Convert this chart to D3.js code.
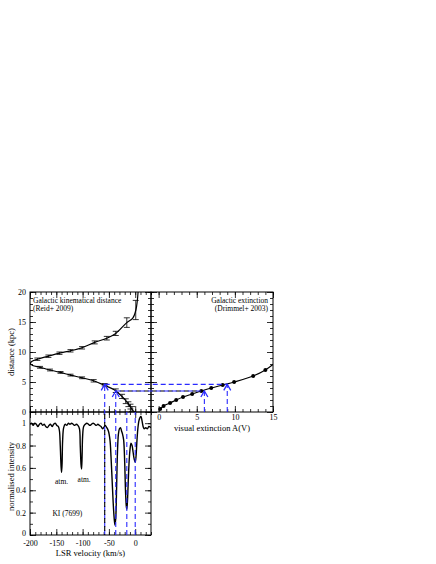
<!DOCTYPE html>
<html>
<head>
<meta charset="utf-8">
<script src="https://cdn.jsdelivr.net/npm/d3@7"></script>
<style>
  body { margin: 0; background: #fff; }
  svg text { font-family: "Liberation Serif", "DejaVu Serif", serif; fill: #000; }
</style>
</head>
<body>
<svg id="chart" width="436" height="564"></svg>
<script>
// Kinematic distance curve (LSR velocity in km/s, distance in kpc)
const kinCurveV = [5.5, 1.3, -5, -16, -37, -54, -77, -101, -123, -144, -165, -186, -196, -199.5, -195, -181, -162, -142.5, -123, -101, -79, -59.5, -40, -27.5, -18, -11.5, -6, -2];
const kinCurveD = [20.05, 17.0, 15.6, 14.9, 13.1, 12.3, 11.6, 10.7, 10.2, 9.8, 9.3, 8.8, 8.45, 8.1, 7.75, 7.45, 7.0, 6.6, 6.15, 5.7, 5.2, 4.5, 3.7, 2.8, 1.9, 1.2, 0.45, 0];

// Points with error bars on the kinematic curve
const kinPtV = [-186, -165, -144, -123, -101, -77, -54, -37, -16, 1, -181, -162, -142, -123, -101, -79, -58, -37, -25, -18, -13, -9, -6];
const kinPtD = [8.8, 9.3, 9.8, 10.2, 10.7, 11.6, 12.3, 13.1, 14.9, 17.0, 7.45, 7.0, 6.6, 6.15, 5.7, 5.2, 4.55, 3.55, 2.6, 1.8, 1.3, 0.9, 0.5];
const kinPtErr = [0.2, 0.2, 0.2, 0.2, 0.2, 0.25, 0.3, 0.35, 0.8, 1.6, 0.15, 0.15, 0.15, 0.15, 0.15, 0.2, 0.2, 0.3, 0.35, 0.4, 0.4, 0.4, 0.4];

// Galactic extinction (A(V) in mag, distance in kpc)
const extA = [0.2, 0.65, 1.5, 2.3, 3.2, 4.4, 5.6, 6.9, 8.4, 9.9, 12.4, 14.0];
const extD = [0.5, 1.0, 1.5, 2.0, 2.5, 3.0, 3.5, 4.0, 4.5, 5.0, 6.0, 7.0];
const extLineA = [0.2, 0.65, 1.5, 2.3, 3.2, 4.4, 5.6, 6.9, 8.4, 9.9, 12.4, 14.0, 15.2];
const extLineD = [0.5, 1.0, 1.5, 2.0, 2.5, 3.0, 3.5, 4.0, 4.5, 5.0, 6.0, 7.0, 8.1];

// KI (7699) spectrum
const specV = [-200, -197, -194, -191, -188, -185, -182, -179, -176, -173, -170, -167, -164, -161, -158, -155, -152, -149, -146, -144, -142.5, -141, -140, -139, -138, -136, -133, -130, -127, -124, -121, -118, -115, -112, -109, -106, -104.5, -103, -102, -101, -100, -98, -95, -92, -89, -86, -83, -80, -77, -74, -71, -68, -65, -62, -60, -57, -54, -51, -48, -46, -44, -42, -40, -38.5, -37, -35.5, -34, -32, -30, -28, -26, -24, -22, -20, -18.5, -17, -16, -15, -13.5, -12, -10, -8, -6, -4, -2, 0, 1.5, 3, 5, 7, 9, 11, 13, 15, 17, 20, 23, 26, 30];
const specI = [0.99, 1.0, 0.98, 1.0, 0.99, 0.97, 0.99, 1.0, 0.98, 0.99, 0.97, 0.96, 0.98, 0.99, 0.97, 0.99, 1.0, 0.98, 0.97, 0.93, 0.8, 0.62, 0.56, 0.64, 0.84, 0.96, 0.99, 0.98, 1.0, 0.99, 1.0, 0.99, 0.98, 0.99, 0.98, 0.95, 0.8, 0.63, 0.59, 0.7, 0.88, 0.97, 0.99, 1.0, 0.99, 0.98, 0.99, 1.0, 0.99, 0.98, 0.99, 0.98, 0.97, 0.95, 0.96, 0.98, 0.96, 0.93, 0.85, 0.7, 0.5, 0.3, 0.15, 0.09, 0.15, 0.4, 0.7, 0.9, 0.95, 0.96, 0.93, 0.9, 0.85, 0.65, 0.4, 0.26, 0.23, 0.28, 0.45, 0.62, 0.76, 0.82, 0.8, 0.74, 0.68, 0.65, 0.7, 0.82, 0.95, 1.02, 1.05, 1.06, 1.02, 0.97, 0.95, 0.96, 0.95, 0.97, 0.96];

// Absorption components and the distances / extinctions they map to
const compVel = [-58, -37, -16, 0];
const compDist = [4.6, 3.5];
const compAv = [9, 6];

// Tick values
const velMajor = [-200, -150, -100, -50, 0];
const velMinor = d3.range(-200, 31, 10);
const distMajor = [0, 5, 10, 15, 20];
const distMinor = d3.range(0, 21, 1);
const intMajor = [0, 0.2, 0.4, 0.6, 0.8, 1];
const intMinor = d3.range(0, 1.11, 0.1);
const avMajor = [0, 5, 10, 15];
const avMinor = d3.range(-1, 16, 1);

const svg = d3.select("#chart");
svg.append("rect").attr("width", 436).attr("height", 564).attr("fill", "#fff");

// panel edges
const x0 = 30, x1 = 151, x2 = 273;
const y0 = 292, y1 = 412, y2 = 535;

const xVel = d3.scaleLinear().domain([-200, 30]).range([x0, x1]);
const yDist = d3.scaleLinear().domain([0, 20]).range([y1, y0]);
const yInt = d3.scaleLinear().domain([0, 1.1]).range([y2, y1]);
const xAv = d3.scaleLinear().domain([-1, 15]).range([x1, x2]);

const blue = "#2a2aff";

// clip paths
const defs = svg.append("defs");
defs.append("clipPath").attr("id", "clipKin").append("rect")
    .attr("x", x0).attr("y", y0).attr("width", x1 - x0).attr("height", y1 - y0);
defs.append("clipPath").attr("id", "clipExt").append("rect")
    .attr("x", x1).attr("y", y0).attr("width", x2 - x1).attr("height", y1 - y0);
defs.append("clipPath").attr("id", "clipSpec").append("rect")
    .attr("x", x0).attr("y", y1).attr("width", x1 - x0).attr("height", y2 - y1);

// axis helper: ticks pointing into the panel
function addAxis(axisMaker, scale, transform, major, minor, withLabels, pad) {
    const gMin = svg.append("g").attr("transform", transform)
        .call(axisMaker(scale).tickValues(minor).tickSize(-3).tickFormat(""));
    const gMaj = svg.append("g").attr("transform", transform)
        .call(axisMaker(scale).tickValues(major).tickSize(-6).tickPadding(pad || 4)
            .tickFormat(withLabels ? (d => String(+d.toFixed(1))) : ""));
    [gMin, gMaj].forEach(g => {
        g.select(".domain").remove();
        g.selectAll(".tick line").attr("stroke", "#000").attr("stroke-width", 0.8);
        g.attr("font-family", null).attr("font-size", 8);
    });
    return gMaj;
}

// top-left panel (kinematic distance)
addAxis(d3.axisLeft, yDist, `translate(${x0},0)`, distMajor, distMinor, true);
addAxis(d3.axisRight, yDist, `translate(${x1},0)`, distMajor, distMinor, false);
addAxis(d3.axisTop, xVel, `translate(0,${y0})`, velMajor, velMinor, false);
addAxis(d3.axisBottom, xVel, `translate(0,${y1})`, velMajor, velMinor, false);

// top-right panel (extinction)
addAxis(d3.axisLeft, yDist, `translate(${x1},0)`, distMajor, distMinor, false);
addAxis(d3.axisRight, yDist, `translate(${x2},0)`, distMajor, distMinor, false);
addAxis(d3.axisTop, xAv, `translate(0,${y0})`, avMajor, avMinor, false);
addAxis(d3.axisBottom, xAv, `translate(0,${y1})`, avMajor, avMinor, true, 2);

// bottom panel (spectrum)
const intAxis = addAxis(d3.axisLeft, yInt, `translate(${x0},0)`, intMajor, intMinor, true);
intAxis.selectAll(".tick text").filter(d => d === 0).attr("y", -2);
addAxis(d3.axisRight, yInt, `translate(${x1},0)`, intMajor, intMinor, false);
addAxis(d3.axisTop, xVel, `translate(0,${y1})`, velMajor, velMinor, false);
addAxis(d3.axisBottom, xVel, `translate(0,${y2})`, velMajor, velMinor, true, 5);

// frames
[[x0, y0, x1 - x0, y1 - y0], [x1, y0, x2 - x1, y1 - y0], [x0, y1, x1 - x0, y2 - y1]].forEach(r => {
    svg.append("rect").attr("x", r[0]).attr("y", r[1]).attr("width", r[2]).attr("height", r[3])
        .attr("fill", "none").attr("stroke", "#000").attr("stroke-width", 1);
});

// ---- kinematic distance curve
const gKin = svg.append("g").attr("clip-path", "url(#clipKin)");
gKin.append("path")
    .datum(d3.range(kinCurveV.length))
    .attr("fill", "none").attr("stroke", "#000").attr("stroke-width", 1.2)
    .attr("d", d3.line().curve(d3.curveCatmullRom)
        .x(i => xVel(kinCurveV[i])).y(i => yDist(kinCurveD[i])));

const eb = gKin.selectAll(".eb").data(d3.range(kinPtV.length)).enter().append("g")
    .attr("stroke", "#000").attr("stroke-width", 0.8);
eb.append("line")
    .attr("x1", i => xVel(kinPtV[i])).attr("x2", i => xVel(kinPtV[i]))
    .attr("y1", i => yDist(kinPtD[i] - kinPtErr[i])).attr("y2", i => yDist(kinPtD[i] + kinPtErr[i]));
[-1, 1].forEach(s => {
    eb.append("line")
        .attr("x1", i => xVel(kinPtV[i]) - 3).attr("x2", i => xVel(kinPtV[i]) + 3)
        .attr("y1", i => yDist(kinPtD[i] + s * kinPtErr[i])).attr("y2", i => yDist(kinPtD[i] + s * kinPtErr[i]));
});

// ---- extinction curve
const gExt = svg.append("g").attr("clip-path", "url(#clipExt)");
gExt.append("path")
    .datum(d3.range(extLineA.length))
    .attr("fill", "none").attr("stroke", "#000").attr("stroke-width", 1.2)
    .attr("d", d3.line().curve(d3.curveCatmullRom)
        .x(i => xAv(extLineA[i])).y(i => yDist(extLineD[i])));
gExt.selectAll(".dot").data(d3.range(extA.length)).enter().append("circle")
    .attr("cx", i => xAv(extA[i])).attr("cy", i => yDist(extD[i]))
    .attr("r", 2).attr("fill", "#000");

// ---- spectrum
const gSpec = svg.append("g").attr("clip-path", "url(#clipSpec)");
gSpec.append("path")
    .datum(d3.range(specV.length))
    .attr("fill", "none").attr("stroke", "#000").attr("stroke-width", 1.4)
    .attr("stroke-linejoin", "round")
    .attr("d", d3.line().curve(d3.curveCatmullRom)
        .x(i => xVel(specV[i])).y(i => yInt(specI[i])));

// ---- dashed guide lines
const gGuide = svg.append("g").attr("fill", "none").attr("stroke-width", 1.1);
function dashed(xa, ya, xb, yb, color, offset) {
    gGuide.append("line").attr("x1", xa).attr("y1", ya).attr("x2", xb).attr("y2", yb)
        .attr("stroke", color).attr("stroke-dasharray", "5,3").attr("stroke-dashoffset", offset || 0);
}
compVel.forEach((v, i) => {
    const top = i < compDist.length ? yDist(compDist[i]) : y1;
    dashed(xVel(v), y2, xVel(v), top, blue);
});
// darker overlay on some guides
dashed(xVel(compVel[0]), y2, xVel(compVel[0]), y1, "#000", 4);
dashed(xVel(compVel[1]), yDist(compDist[1]), xAv(compAv[1]), yDist(compDist[1]), "#000", 4);

compDist.forEach((d, i) => {
    dashed(xVel(compVel[i]), yDist(d), xAv(compAv[i]), yDist(d), blue);
    dashed(xAv(compAv[i]), y1, xAv(compAv[i]), yDist(d), blue);
});

// arrow heads (open chevrons pointing up)
function chevron(x, y) {
    gGuide.append("path")
        .attr("d", `M${x - 3.5},${y + 6}L${x},${y}L${x + 3.5},${y + 6}`)
        .attr("stroke", blue).attr("stroke-width", 1.3);
}
compDist.forEach((d, i) => {
    chevron(xVel(compVel[i]), yDist(d));
    chevron(xAv(compAv[i]), yDist(d));
});

// ---- texts
svg.append("text").attr("x", x0 + 3).attr("y", 303).attr("font-size", 7.5).text("Galactic kinematical distance");
svg.append("text").attr("x", x0 + 3).attr("y", 311).attr("font-size", 7.5).text("(Reid+ 2009)");
svg.append("text").attr("x", x2 - 5).attr("y", 303).attr("font-size", 7.5).attr("text-anchor", "end").text("Galactic extinction");
svg.append("text").attr("x", x2 - 5).attr("y", 311).attr("font-size", 7.5).attr("text-anchor", "end").text("(Drimmel+ 2003)");

svg.append("text").attr("transform", `translate(14,${(y0 + y1) / 2}) rotate(-90)`)
    .attr("text-anchor", "middle").attr("font-size", 8.5).text("distance (kpc)");
svg.append("text").attr("transform", `translate(14,${(y1 + y2) / 2 + 3}) rotate(-90)`)
    .attr("text-anchor", "middle").attr("font-size", 8.5).text("normalised intensity");
svg.append("text").attr("x", (x1 + x2) / 2).attr("y", 431)
    .attr("text-anchor", "middle").attr("font-size", 8.5).text("visual extinction A(V)");
svg.append("text").attr("x", (x0 + x1) / 2).attr("y", 556)
    .attr("text-anchor", "middle").attr("font-size", 8.5).text("LSR velocity (km/s)");

svg.append("text").attr("x", xVel(-140)).attr("y", 484).attr("text-anchor", "middle").attr("font-size", 7.5).text("atm.");
svg.append("text").attr("x", xVel(-97)).attr("y", 482).attr("text-anchor", "middle").attr("font-size", 7.5).text("atm.");
svg.append("text").attr("x", xVel(-129)).attr("y", 516).attr("text-anchor", "middle").attr("font-size", 7.5).text("KI (7699)");
</script>
</body>
</html>
